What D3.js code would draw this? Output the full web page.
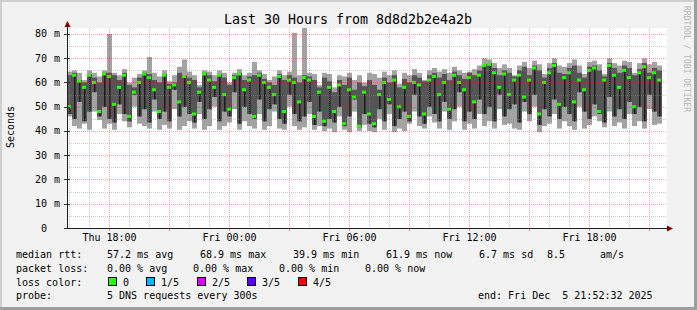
<!DOCTYPE html>
<html>
<head>
<meta charset="utf-8">
<script src="https://cdn.jsdelivr.net/npm/d3@7"></script>
<style>
body { margin: 0; background: #f2f2f2; }
text { font-family: "DejaVu Sans Mono", monospace; fill: #000; }
</style>
</head>
<body>
<svg id="chart"></svg>
<script>
// smokeping: 5 pings per 15 min column, values in ms
var startTime = new Date(2025, 11, 4, 15, 52, 32),
    endTime = new Date(2025, 11, 5, 21, 52, 32),
    stepMin = 15;

var pingMax = [64.5,65,64,61,65,64,62.5,65,80,64, 63,65.5,60,62,63.5,65,70.5,64,62.5,65,
  60.5,63,66.5,69.5,64.5,63,59,65,64.5,63, 65,64,60,64,65.5,63,64,68.5,65,63.5,
  61,62.5,65,63,64.5,80.5,63,82.5,64,63.5, 59,64,63.5,58,63,62.5,64,61,63,60,
  64,63.5,62,64.5,63,65,59.5,64,63,65.5, 64,61,65,66,64.5,65.5,64,66.5,65,64,
  64.5,65.5,67,70,69.5,68,66,67.5,66,63, 67,68.5,66,69,67.5,63.5,68,70,67,66.5,
  68,69.5,67,63.5,68.5,69,67.5,63.5,70,68, 67,69,68.5,64,68,70,67.5,68.5,67];
var pingMin = [46,42,41,43,40.5,48,44.5,41,43,40.5, 47,44,41.5,50,43,42,41,48,40.5,42.5,
  41,49,40.5,42,44,41,47,40.5,42,50, 40.5,42,43.5,49,40.5,44,42,41,47,40.5,
  42,48,41,40.5,50,42,40.5,41.5,47,40.5, 42,40,41,39.5,46,40.5,39.5,48,40,42.5,
  40,39.5,45,40.5,47,39.5,41,40,43,48, 42,41,46,43.5,41,48,40.5,44,50,40.5,
  43,41,47,42,44,41,49,42.5,43,41, 40.5,48,44,50,39.5,42,43,47,41,44,
  42,40.5,50,41,42.5,46,44,41.5,48,42, 43.5,41,47,42,44,41,49,42.5,43];
var pingLo = [47,45,52,44,48,56,46,50,45,43.5, 51,47,44,55,46,49,43.5,53,45,48,
  44,57,46,50,47,43.5,52,45,49,54, 44,48,46,56,43,50,47,45,53,44,
  49,51,45,43,55,47,44,46,52,42.5, 48,42,45,43.5,50,42,46,53,41.5,47,
  43,41.5,49,44,51,42,45,48,44,55, 46,43,50,47,44,52,45,49,56,44,
  48,45,53,47,50,44,55,46,49,51, 43.5,52,47,55,42.5,49,46,53,45,50,
  47,44,56,48,45,51,47,43.5,54,46, 49,45,52,47,50,44,55,48,46];
var pingHi = [63,64,61,60,63.5,62,60,64,64,63, 61,64,59,58,62,64,63.5,61,60,63.5,
  59.5,60,64,63,62,61,58,64,63,60.5, 63.5,62,59,63,64,61,62.5,63,64,61.5,
  60,59,63.5,61,63,62,60,63,62.5,61, 58,62,60.5,56,61,59,62,57,60,58.5,
  61,59,57,62,60,63,58,61.5,60,63, 62,60.5,63,64,62,63.5,61,64.5,63,61.5,
  64,63,65,67.5,68,66,63,65,64,62.5, 65,66.5,63,67,65,62,66,68,64,63.5,
  66,67,64,62,66.5,67,65,62.5,68,66, 64,67,66,63,65.5,68,64,66,65];
var pingMed = [50,63,60.5,58,63,60,48,63.5,62.5,51, 58,63,46,56,60,63.5,62,57,48,63,
  58,59,52,62.5,60,47,56,63.5,61,58, 63,55,49,62,63.5,57,61,46,63,60,
  58,55,62.5,48,61,60,52,62,61,46, 56,44,58,48,59,43,57,54,42,56,
  47,43,55,60,53,61,50,58,46,60, 59,47,61,62.5,55,60,49,63,60,57,
  62,52,63,67,67.5,64,58,63.5,55,61, 63,54,61,66,47,60,64,67,51,62,
  64,52,61,57,65,66,48,61,67,63, 58,65,62,50,64,66.5,62,64,61];

var yTicks = [0, 10, 20, 30, 40, 50, 60, 70, 80];
var lossLabels = ["0", "1/5", "2/5", "3/5", "4/5"];
var lossColors = ["#26ff00", "#00b8ff", "#dd00ff", "#5e00ff", "#ff0000"];

var W = 697, H = 310;
var svg = d3.select("#chart").attr("width", W).attr("height", H);

// frame
svg.append("rect").attr("width", W).attr("height", H).attr("fill", "#f2f2f2");
svg.append("rect").attr("width", W).attr("height", 2).attr("fill", "#cfcfcf");
svg.append("rect").attr("width", 2).attr("height", H).attr("fill", "#cfcfcf");
svg.append("rect").attr("x", W - 3).attr("width", 3).attr("height", H).attr("fill", "#9e9e9e");
svg.append("rect").attr("y", H - 3).attr("width", W).attr("height", 3).attr("fill", "#9e9e9e");

var x = d3.scaleTime().domain([startTime, endTime]).range([67, 667]);
var y = d3.scaleLinear().domain([0, 82.47]).range([228, 28]);

svg.append("rect")
  .attr("x", x.range()[0]).attr("y", y.range()[1])
  .attr("width", x.range()[1] - x.range()[0])
  .attr("height", y.range()[0] - y.range()[1])
  .attr("fill", "#fff");

var cols = pingMed.map(function(d, i) {
  var t0 = d3.timeMinute.offset(startTime, i * stepMin),
      t1 = d3.timeMinute.offset(startTime, (i + 1) * stepMin);
  return { x0: x(t0), x1: x(t1), min: pingMin[i], lo: pingLo[i], med: d, hi: pingHi[i], max: pingMax[i] };
});

var smoke = svg.append("g");
smoke.selectAll("rect.outer").data(cols).enter().append("rect")
  .attr("x", function(d) { return d.x0; })
  .attr("width", function(d) { return d.x1 - d.x0; })
  .attr("y", function(d) { return y(d.max); })
  .attr("height", function(d) { return y(d.min) - y(d.max); })
  .attr("fill", "#a3a3a3");
smoke.selectAll("rect.inner").data(cols).enter().append("rect")
  .attr("x", function(d) { return d.x0; })
  .attr("width", function(d) { return d.x1 - d.x0; })
  .attr("y", function(d) { return y(d.hi); })
  .attr("height", function(d) { return y(d.lo) - y(d.hi); })
  .attr("fill", "#555");
smoke.selectAll("rect.core").data(cols).enter().append("rect")
  .attr("x", function(d) { return d.x0 + 2; })
  .attr("width", 1.5)
  .attr("y", function(d) { return y(d.med); })
  .attr("height", function(d) { return y(d.lo) - y(d.med); })
  .attr("fill", "#1c1c1c");
smoke.selectAll("rect.med").data(cols).enter().append("rect")
  .attr("x", function(d) { return d.x0; })
  .attr("width", function(d) { return d.x1 - d.x0 - 1; })
  .attr("y", function(d) { return y(d.med) - 1.5; })
  .attr("height", 3)
  .attr("fill", lossColors[0]);

// grid on top, like rrdtool
var grid = svg.append("g");
var hours = d3.timeHour.range(startTime, endTime);
grid.selectAll("line.v").data(hours).enter().append("line")
  .attr("x1", function(d) { return Math.round(x(d)) + 0.5; })
  .attr("x2", function(d) { return Math.round(x(d)) + 0.5; })
  .attr("y1", y.range()[1]).attr("y2", y.range()[0])
  .attr("stroke", function(d) { return d.getHours() % 3 === 0 ? "rgba(255,0,0,0.35)" : "rgba(140,140,140,0.45)"; })
  .attr("stroke-dasharray", "1,1");
var yMinor = d3.range(5, 82, 5);
grid.selectAll("line.h").data(yMinor).enter().append("line")
  .attr("x1", x.range()[0]).attr("x2", x.range()[1])
  .attr("y1", function(d) { return Math.round(y(d)) + 0.5; })
  .attr("y2", function(d) { return Math.round(y(d)) + 0.5; })
  .attr("stroke", function(d) { return d % 10 === 0 ? "rgba(255,0,0,0.35)" : "rgba(140,140,140,0.45)"; })
  .attr("stroke-dasharray", "1,1");

// x ticks (red, every 3h) and labels every 6h
var major = hours.filter(function(d) { return d.getHours() % 3 === 0; });
grid.selectAll("line.xt").data(major).enter().append("line")
  .attr("x1", function(d) { return Math.round(x(d)) + 0.5; })
  .attr("x2", function(d) { return Math.round(x(d)) + 0.5; })
  .attr("y1", 228).attr("y2", 231)
  .attr("stroke", "rgba(255,0,0,0.5)");
var fmt = d3.timeFormat("%a %H:%M");
svg.selectAll("text.xl").data(x.ticks(d3.timeHour.every(6))).enter().append("text")
  .attr("x", function(d) { return x(d); })
  .attr("y", 241)
  .attr("text-anchor", "middle")
  .style("font-size", "10px")
  .text(fmt);

// y ticks
svg.selectAll("line.yt").data(yTicks).enter().append("line")
  .attr("x1", 64).attr("x2", 70)
  .attr("y1", function(d) { return Math.round(y(d)) + 0.5; })
  .attr("y2", function(d) { return Math.round(y(d)) + 0.5; })
  .attr("stroke", "#333");
svg.selectAll("text.yl").data(yTicks).enter().append("text")
  .attr("x", 47)
  .attr("y", function(d) { return y(d) + 3.5; })
  .attr("text-anchor", "end")
  .style("font-size", "10px")
  .text(function(d) { return d; });
svg.selectAll("text.yu").data(yTicks.filter(function(d) { return d > 0; })).enter().append("text")
  .attr("x", 54)
  .attr("y", function(d) { return y(d) + 3.5; })
  .style("font-size", "10px")
  .text("m");

// axes with arrows
svg.append("line").attr("x1", 67).attr("x2", 668).attr("y1", 228.5).attr("y2", 228.5).attr("stroke", "#202020");
svg.append("line").attr("x1", 67.5).attr("x2", 67.5).attr("y1", 228).attr("y2", 25).attr("stroke", "#202020");
svg.append("path").attr("d", "M667,225.5L673,228.5L667,231.5Z").attr("fill", "#7f0000");
svg.append("path").attr("d", "M64.5,27L67.5,21L70.5,27Z").attr("fill", "#7f0000");

// title, axis label, watermark
svg.append("text").attr("x", 348).attr("y", 24).attr("text-anchor", "middle")
  .style("font-size", "13.3px").text("Last 30 Hours from 8d8d2b2e4a2b");
svg.append("text").attr("transform", "translate(14,127) rotate(-90)").attr("text-anchor", "middle")
  .style("font-size", "10px").text("Seconds");
svg.append("text").attr("transform", "translate(684,59) rotate(90)").attr("text-anchor", "middle")
  .style("font-size", "8px").style("fill", "#b4b4b4").text("RRDTOOL / TOBI OETIKER");

// legend
function put(tx, ty, s) {
  svg.append("text").attr("x", tx).attr("y", ty).attr("xml:space", "preserve")
    .style("font-size", "10px").style("white-space", "pre").text(s);
}
put(16, 258, "median rtt:");
put(107, 258, "57.2 ms avg");
put(200, 258, "68.9 ms max");
put(293, 258, "39.9 ms min");
put(386, 258, "61.9 ms now");
put(479, 258, "6.7 ms sd");
put(547, 258, "8.5");
put(600, 258, "am/s");
put(16, 272, "packet loss:");
put(107, 272, "0.00 % avg");
put(193, 272, "0.00 % max");
put(279, 272, "0.00 % min");
put(365, 272, "0.00 % now");
put(16, 285.5, "loss color:");
var boxX = [108, 146, 197, 247, 298];
lossLabels.forEach(function(l, i) {
  svg.append("rect").attr("x", boxX[i] + 0.5).attr("y", 277.5).attr("width", 8).attr("height", 8)
    .attr("fill", lossColors[i]).attr("stroke", "#000");
  put(boxX[i] + 15, 285.5, l);
});
put(16, 299, "probe:");
put(107, 299, "5 DNS requests every 300s");
put(478, 299, "end: Fri Dec  5 21:52:32 2025");
</script>
</body>
</html>
